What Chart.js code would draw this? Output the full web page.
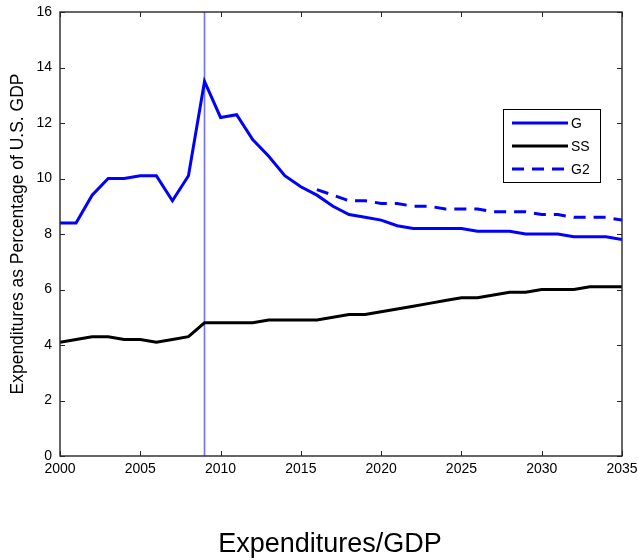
<!DOCTYPE html>
<html>
<head>
<meta charset="utf-8">
<script src="https://cdn.jsdelivr.net/npm/chart.js@4/dist/chart.umd.min.js"></script>
<style>
  html, body { margin: 0; padding: 0; background: #fff; }
  #wrap { width: 638px; height: 560px; }
</style>
</head>
<body>
<div id="wrap"><canvas id="c" width="638" height="560"></canvas></div>
<script>
// Projected federal spending shares, 2000-2035
const years = [2000, 2001, 2002, 2003, 2004, 2005, 2006, 2007, 2008, 2009,
               2010, 2011, 2012, 2013, 2014, 2015, 2016, 2017, 2018, 2019,
               2020, 2021, 2022, 2023, 2024, 2025, 2026, 2027, 2028, 2029,
               2030, 2031, 2032, 2033, 2034, 2035];

// G: government purchases, % of GDP
const gValues = [8.4, 8.4, 9.4, 10.0, 10.0, 10.1, 10.1, 9.2, 10.1, 13.5,
                 12.2, 12.3, 11.4, 10.8, 10.1, 9.7, 9.4, 9.0, 8.7, 8.6,
                 8.5, 8.3, 8.2, 8.2, 8.2, 8.2, 8.1, 8.1, 8.1, 8.0,
                 8.0, 8.0, 7.9, 7.9, 7.9, 7.8];

// SS: social security, % of GDP
const ssValues = [4.1, 4.2, 4.3, 4.3, 4.2, 4.2, 4.1, 4.2, 4.3, 4.8,
                  4.8, 4.8, 4.8, 4.9, 4.9, 4.9, 4.9, 5.0, 5.1, 5.1,
                  5.2, 5.3, 5.4, 5.5, 5.6, 5.7, 5.7, 5.8, 5.9, 5.9,
                  6.0, 6.0, 6.0, 6.1, 6.1, 6.1];

// G2: alternative path for G, starting 2016
const g2Values = [null, null, null, null, null, null, null, null, null, null,
                  null, null, null, null, null, null, 9.6, 9.4, 9.2, 9.2,
                  9.1, 9.1, 9.0, 9.0, 8.9, 8.9, 8.9, 8.8, 8.8, 8.8,
                  8.7, 8.7, 8.6, 8.6, 8.6, 8.5];

// Year marked by the vertical reference line
const markerYear = [2009];

const seriesLabels = ['G', 'SS', 'G2'];
const xTicks = [2000, 2005, 2010, 2015, 2020, 2025, 2030, 2035];
const yTicks = [0, 2, 4, 6, 8, 10, 12, 14, 16];
const figureTitle = 'Expenditures/GDP';

const pts = vals => years.map((y, i) => ({ x: y, y: vals[i] }));

const FONT = "'Liberation Sans', Arial, sans-serif";

// Box frame with inward tick marks on all four sides
const framePlugin = {
  id: 'frame',
  afterDatasetsDraw(chart) {
    const { ctx, chartArea: a, scales } = chart;
    ctx.save();
    ctx.strokeStyle = '#262626';
    ctx.lineWidth = 1.4;
    ctx.strokeRect(a.left, a.top, a.right - a.left, a.bottom - a.top);
    ctx.lineWidth = 1;
    const len = 5;
    ctx.beginPath();
    scales.x.ticks.forEach(t => {
      const px = Math.round(scales.x.getPixelForValue(t.value)) + 0.5;
      ctx.moveTo(px, a.bottom); ctx.lineTo(px, a.bottom - len);
      ctx.moveTo(px, a.top); ctx.lineTo(px, a.top + len);
    });
    scales.y.ticks.forEach(t => {
      const py = Math.round(scales.y.getPixelForValue(t.value)) + 0.5;
      ctx.moveTo(a.left, py); ctx.lineTo(a.left + len, py);
      ctx.moveTo(a.right, py); ctx.lineTo(a.right - len, py);
    });
    ctx.stroke();
    ctx.restore();
  }
};

// Boxed legend inside the plot, upper right
const boxLegendPlugin = {
  id: 'boxLegend',
  afterDraw(chart) {
    const { ctx, chartArea: a } = chart;
    const w = 97, h = 73;
    const x0 = a.right - 22 - w, y0 = a.top + 97;
    ctx.save();
    ctx.fillStyle = '#fff';
    ctx.fillRect(x0, y0, w, h);
    ctx.strokeStyle = '#000';
    ctx.lineWidth = 1;
    ctx.strokeRect(x0 + 0.5, y0 + 0.5, w, h);
    const rows = [0, 1, 2].map(i => chart.data.datasets[i]);
    rows.forEach((ds, i) => {
      const cy = y0 + 14 + i * 23;
      ctx.beginPath();
      ctx.strokeStyle = ds.borderColor;
      ctx.lineWidth = ds.borderWidth;
      ctx.setLineDash(ds.borderDash || []);
      ctx.moveTo(x0 + 9, cy);
      ctx.lineTo(x0 + 65, cy);
      ctx.stroke();
      ctx.setLineDash([]);
      ctx.fillStyle = '#000';
      ctx.font = '14px ' + FONT;
      ctx.textBaseline = 'middle';
      ctx.textAlign = 'left';
      ctx.fillText(ds.label, x0 + 68, cy + 1);
    });
    ctx.restore();
  }
};

// Figure caption below the x axis
const captionPlugin = {
  id: 'caption',
  afterDraw(chart) {
    const { ctx, chartArea: a } = chart;
    ctx.save();
    ctx.fillStyle = '#000';
    ctx.font = '27px ' + FONT;
    ctx.textAlign = 'center';
    ctx.textBaseline = 'middle';
    ctx.fillText(figureTitle, (a.left + a.right) / 2 - 11, 545);
    ctx.restore();
  }
};

new Chart(document.getElementById('c'), {
  type: 'line',
  data: {
    datasets: [
      { label: seriesLabels[0], data: pts(gValues), borderColor: '#0000ff',
        borderWidth: 3, pointRadius: 0, tension: 0, order: 2 },
      { label: seriesLabels[1], data: pts(ssValues), borderColor: '#000000',
        borderWidth: 3, pointRadius: 0, tension: 0, order: 2 },
      { label: seriesLabels[2], data: pts(g2Values), borderColor: '#0000ff',
        borderWidth: 3, borderDash: [12, 8], pointRadius: 0, tension: 0,
        spanGaps: false, order: 2 },
      { label: 'marker', data: [{ x: markerYear[0], y: yTicks[0] }, { x: markerYear[0], y: yTicks[yTicks.length - 1] }],
        borderColor: 'rgb(112,112,255)', borderWidth: 1.6, pointRadius: 0, order: 3 }
    ]
  },
  options: {
    responsive: false,
    animation: false,
    devicePixelRatio: 1,
    layout: { padding: { left: 0, right: 16, top: 12, bottom: 0 } },
    plugins: {
      legend: { display: false },
      tooltip: { enabled: false }
    },
    scales: {
      x: {
        type: 'linear',
        min: xTicks[0],
        max: xTicks[xTicks.length - 1],
        afterBuildTicks: s => { s.ticks = xTicks.map(v => ({ value: v })); },
        grid: { display: false, drawTicks: false },
        border: { display: false },
        ticks: {
          padding: 5,
          color: '#000',
          font: { family: FONT, size: 14 },
          maxRotation: 0,
          callback: v => String(v)
        },
        afterFit: s => { s.height = 104; s.paddingLeft = 0; s.paddingRight = 0; }
      },
      y: {
        min: yTicks[0],
        max: yTicks[yTicks.length - 1],
        afterBuildTicks: s => { s.ticks = yTicks.map(v => ({ value: v })); },
        grid: { display: false, drawTicks: false },
        border: { display: false },
        ticks: {
          padding: 8,
          color: '#000',
          font: { family: FONT, size: 14 },
          callback: v => String(v)
        },
        title: {
          display: true,
          text: 'Expenditures as Percentage of U.S. GDP',
          color: '#000',
          font: { family: FONT, size: 17.5 },
          padding: { top: 8, bottom: 0 }
        },
        afterFit: s => { s.width = 60; s.paddingTop = 0; s.paddingBottom = 0; }
      }
    }
  },
  plugins: [framePlugin, boxLegendPlugin, captionPlugin]
});
</script>
</body>
</html>
